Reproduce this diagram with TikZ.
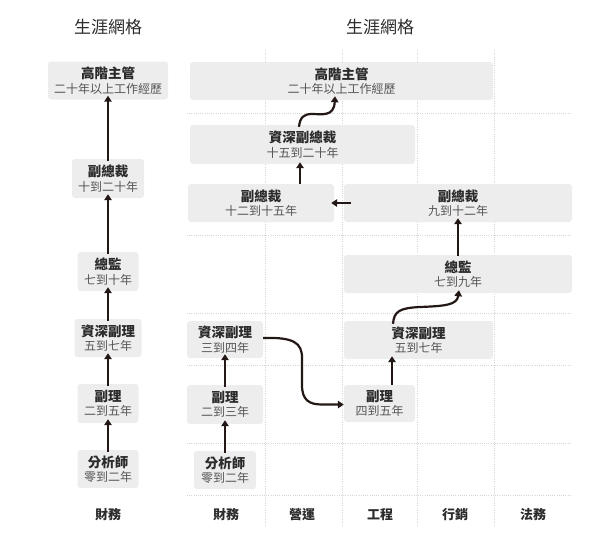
\documentclass[tikz,border=0pt]{standalone}
\usepackage{fontspec}
\setmainfont{Noto Sans CJK TC}
\usetikzlibrary{arrows.meta}
\definecolor{boxgray}{HTML}{EDEDED}
\definecolor{ink}{HTML}{231815}
\definecolor{titlec}{HTML}{2B2B2B}
\definecolor{subc}{HTML}{555555}
\definecolor{gridc}{HTML}{D6D6D6}
\tikzset{
  cbox/.style={fill=boxgray, rounded corners=3pt, inner sep=0pt, align=center, text=titlec},
  arr/.style={ink, line width=2.2pt, -{Triangle[length=6pt,width=7.5pt]}},
  gridl/.style={gridc, line width=0.6pt, dash pattern=on 0.6pt off 1.6pt},
  heading/.style={font=\fontsize{17}{19}\selectfont, text=titlec},
  collab/.style={font=\fontsize{13}{15}\selectfont\bfseries, text=titlec}
}
\newcommand{\bx}[2]{{\fontsize{13.5}{16}\selectfont\bfseries #1}\\[2.5pt]{\fontsize{12}{14}\selectfont\color{subc}#2}}
\begin{document}
\begin{tikzpicture}[x=1pt,y=-1pt]
\useasboundingbox (0,0) rectangle (600,542);
% grid
\foreach \gx in {265,342,417,494} \draw[gridl] (\gx,50) -- (\gx,527);
\foreach \gy in {113,235,313,365,443,495} \draw[gridl] (187,\gy) -- (572,\gy);
% headings
\node[heading] (h1) at (108,27) {生涯網格};
\node[heading] (h2) at (380,27) {生涯網格};
% left column
\node[cbox, minimum width=120pt, minimum height=38pt] (L1) at (108,80.5) {\bx{高階主管}{二十年以上工作經歷}};
\node[cbox, minimum width=72pt, minimum height=39pt] (L2) at (108,178.5) {\bx{副總裁}{十到二十年}};
\node[cbox, minimum width=61pt, minimum height=39pt] (L3) at (108,271.5) {\bx{總監}{七到十年}};
\node[cbox, minimum width=67pt, minimum height=38pt] (L4) at (108,338) {\bx{資深副理}{五到七年}};
\node[cbox, minimum width=61pt, minimum height=39pt] (L5) at (108,403.5) {\bx{副理}{二到五年}};
\node[cbox, minimum width=61pt, minimum height=38pt] (L6) at (108,469) {\bx{分析師}{零到二年}};
\draw[arr] ([yshift=-2pt]L2.north) -- ([yshift=4pt]L1.south);
\draw[arr] ([yshift=-2pt]L3.north) -- ([yshift=4pt]L2.south);
\draw[arr] ([yshift=-2pt]L4.north) -- ([yshift=4pt]L3.south);
\draw[arr] ([yshift=-2pt]L5.north) -- ([yshift=4pt]L4.south);
\draw[arr] ([yshift=-2pt]L6.north) -- ([yshift=4pt]L5.south);
\node[collab] (c0) at (108,515) {財務};
% right grid boxes
\node[cbox, minimum width=303pt, minimum height=38pt] (R1) at (341.5,81) {\bx{高階主管}{二十年以上工作經歷}};
\node[cbox, minimum width=225pt, minimum height=39pt] (R2) at (302.5,144.5) {\bx{資深副總裁}{十五到二十年}};
\node[cbox, minimum width=146pt, minimum height=38pt] (R3) at (261,203) {\bx{副總裁}{十二到十五年}};
\node[cbox, minimum width=228pt, minimum height=38pt] (R4) at (458,203) {\bx{副總裁}{九到十二年}};
\node[cbox, minimum width=228pt, minimum height=38pt] (R5) at (458,274) {\bx{總監}{七到九年}};
\node[cbox, minimum width=149pt, minimum height=38pt] (R6) at (418.5,340) {\bx{資深副理}{五到七年}};
\node[cbox, minimum width=76pt, minimum height=37pt] (R7) at (225,339.5) {\bx{資深副理}{三到四年}};
\node[cbox, minimum width=76pt, minimum height=39pt] (R8) at (225,404.5) {\bx{副理}{二到三年}};
\node[cbox, minimum width=71pt, minimum height=37pt] (R9) at (379.5,403.5) {\bx{副理}{四到五年}};
\node[cbox, minimum width=62pt, minimum height=38pt] (R10) at (225,470) {\bx{分析師}{零到二年}};
% right arrows
\draw[arr] ([yshift=-2pt]R10.north) -- ([yshift=4pt]R8.south);
\draw[arr] ([yshift=-2pt]R8.north) -- ([yshift=4pt]R7.south);
\draw[arr] ([yshift=1.5pt]R7.east) .. controls (294,337) and (302,343) .. (302,358)
  -- (302,385) .. controls (302,400) and (309,404.5) .. (322,404.5) -- ([yshift=-1pt]R9.west);
\draw[arr] (R9.north -| 392,0) -- ([yshift=3pt]R6.south -| 392,0);
\draw[arr] ([yshift=-3pt]R6.north -| 393,0) .. controls (394,311) and (400,308) .. (420,307)
  .. controls (445,306) and (457,305) .. ([yshift=3pt]R5.south -| 459,0);
\draw[arr] ([yshift=-1pt]R5.north -| 458,0) -- ([yshift=4pt]R4.south -| 458,0);
\draw[arr] ([xshift=7pt]R4.west) -- ([xshift=-3pt]R3.east);
\draw[arr] (R3.north -| 300,0) -- ([yshift=2pt]R2.south -| 300,0);
\draw[arr] ([yshift=-2pt]R2.north -| 299,0) .. controls (300,117) and (304,114) .. (312,114)
  .. controls (322,114) and (334,117) .. ([yshift=4pt]R1.south -| 335,0);
% column labels
\node[collab] (c1) at (226,515) {財務};
\node[collab] (c2) at (302,515) {營運};
\node[collab] (c3) at (380,515) {工程};
\node[collab] (c4) at (455,515) {行銷};
\node[collab] (c5) at (533,515) {法務};
\end{tikzpicture}
\end{document}
